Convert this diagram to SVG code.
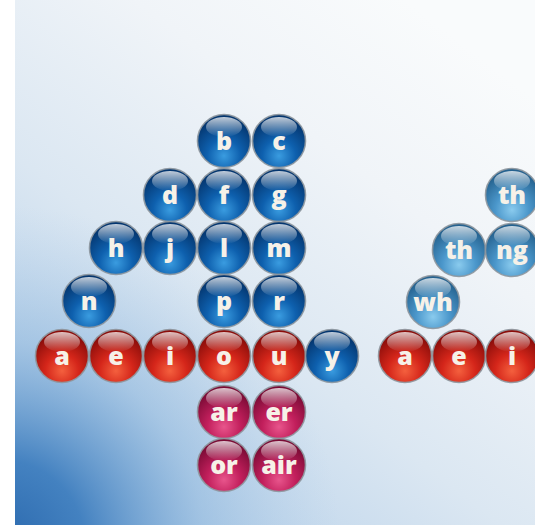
<svg xmlns="http://www.w3.org/2000/svg" xmlns:xlink="http://www.w3.org/1999/xlink" width="535" height="525" viewBox="0 0 535 525">
<defs>
<linearGradient id="bg" x1="0" y1="1" x2="0.75" y2="0">
<stop offset="0" stop-color="#a9c8e6"/>
<stop offset="0.45" stop-color="#dbe7f2"/>
<stop offset="0.75" stop-color="#f0f4f8"/>
<stop offset="1" stop-color="#f9fbfc"/>
</linearGradient>
<radialGradient id="bg2" gradientUnits="userSpaceOnUse" cx="0" cy="545" r="340">
<stop offset="0" stop-color="#2a68ad" stop-opacity="1"/>
<stop offset="0.25" stop-color="#3a7bbd" stop-opacity="0.92"/>
<stop offset="0.6" stop-color="#80aed9" stop-opacity="0.45"/>
<stop offset="1" stop-color="#a9c8e6" stop-opacity="0"/>
</radialGradient>
<radialGradient id="gBlue" cx="0.5" cy="0.78" r="0.7">
<stop offset="0" stop-color="#3a9ce0"/>
<stop offset="0.45" stop-color="#0e60ae"/>
<stop offset="1" stop-color="#04366f"/>
</radialGradient>
<radialGradient id="gLight" cx="0.5" cy="0.78" r="0.7">
<stop offset="0" stop-color="#8acbee"/>
<stop offset="0.45" stop-color="#4b97cb"/>
<stop offset="1" stop-color="#25628f"/>
</radialGradient>
<radialGradient id="gRed" cx="0.5" cy="0.78" r="0.7">
<stop offset="0" stop-color="#f4603e"/>
<stop offset="0.45" stop-color="#d5261a"/>
<stop offset="1" stop-color="#8a0d0a"/>
</radialGradient>
<radialGradient id="gPink" cx="0.5" cy="0.78" r="0.7">
<stop offset="0" stop-color="#e8558c"/>
<stop offset="0.45" stop-color="#c21f5c"/>
<stop offset="1" stop-color="#7a0b35"/>
</radialGradient>
<linearGradient id="hl" x1="0" y1="0" x2="0" y2="1">
<stop offset="0" stop-color="#ffffff" stop-opacity="0.75"/>
<stop offset="1" stop-color="#ffffff" stop-opacity="0"/>
</linearGradient>
<g id="hlite">
<ellipse cx="0" cy="-14" rx="18" ry="10" fill="url(#hl)"/>
</g>
<g id="blue"><circle r="26.5" fill="url(#gBlue)" class="rim"/><use xlink:href="#hlite"/></g>
<g id="light"><circle r="26.5" fill="url(#gLight)" class="rim"/><use xlink:href="#hlite"/></g>
<g id="red"><circle r="26.5" fill="url(#gRed)" class="rim"/><use xlink:href="#hlite"/></g>
<g id="pink"><circle r="26.5" fill="url(#gPink)" class="rim"/><use xlink:href="#hlite"/></g>
</defs>
<style>
.rim { stroke: #8e979f; stroke-width: 1.6; stroke-opacity: 0.9; }
text { font-family: "Open Sans", "DejaVu Sans", sans-serif; font-weight: 800; font-size: 25px; fill: #f6f1e8; text-anchor: middle; }
</style>
<rect x="0" y="0" width="535" height="525" fill="#ffffff"/>
<rect x="15" y="0" width="520" height="525" fill="url(#bg)"/>
<rect x="15" y="0" width="520" height="525" fill="url(#bg2)"/>

<g id="node-b" transform="translate(224,141)"><use xlink:href="#blue"/><text y="8.5">b</text></g>
<g id="node-c" transform="translate(279,141)"><use xlink:href="#blue"/><text y="8.5">c</text></g>
<g id="node-d" transform="translate(170,195)"><use xlink:href="#blue"/><text y="8.5">d</text></g>
<g id="node-f" transform="translate(224,195)"><use xlink:href="#blue"/><text y="8.5">f</text></g>
<g id="node-g" transform="translate(279,195)"><use xlink:href="#blue"/><text y="8.5">g</text></g>
<g id="node-h" transform="translate(116,248)"><use xlink:href="#blue"/><text y="8.5">h</text></g>
<g id="node-j" transform="translate(170,248)"><use xlink:href="#blue"/><text y="8.5">j</text></g>
<g id="node-l" transform="translate(224,248)"><use xlink:href="#blue"/><text y="8.5">l</text></g>
<g id="node-m" transform="translate(279,248)"><use xlink:href="#blue"/><text y="8.5">m</text></g>
<g id="node-n" transform="translate(89,301)"><use xlink:href="#blue"/><text y="8.5">n</text></g>
<g id="node-p" transform="translate(224,301)"><use xlink:href="#blue"/><text y="8.5">p</text></g>
<g id="node-r" transform="translate(279,301)"><use xlink:href="#blue"/><text y="8.5">r</text></g>
<g id="node-a" transform="translate(62,356)"><use xlink:href="#red"/><text y="8.5">a</text></g>
<g id="node-e" transform="translate(116,356)"><use xlink:href="#red"/><text y="8.5">e</text></g>
<g id="node-i" transform="translate(170,356)"><use xlink:href="#red"/><text y="8.5">i</text></g>
<g id="node-o" transform="translate(224,356)"><use xlink:href="#red"/><text y="8.5">o</text></g>
<g id="node-u" transform="translate(279,356)"><use xlink:href="#red"/><text y="8.5">u</text></g>
<g id="node-y" transform="translate(332,356)"><use xlink:href="#blue"/><text y="8.5">y</text></g>
<g id="node-ar" transform="translate(224,412)"><use xlink:href="#pink"/><text y="8.5">ar</text></g>
<g id="node-er" transform="translate(279,412)"><use xlink:href="#pink"/><text y="8.5">er</text></g>
<g id="node-or" transform="translate(224,465)"><use xlink:href="#pink"/><text y="8.5">or</text></g>
<g id="node-air" transform="translate(279,465)"><use xlink:href="#pink"/><text y="8.5">air</text></g>

<g id="node-th1" transform="translate(512,195)"><use xlink:href="#light"/><text y="8.5">th</text></g>
<g id="node-th2" transform="translate(459,250)"><use xlink:href="#light"/><text y="8.5">th</text></g>
<g id="node-ng" transform="translate(512,250)"><use xlink:href="#light"/><text y="8.5">ng</text></g>
<g id="node-wh" transform="translate(433,302)"><use xlink:href="#light"/><text y="8.5">wh</text></g>
<g id="node-a2" transform="translate(405,356)"><use xlink:href="#red"/><text y="8.5">a</text></g>
<g id="node-e2" transform="translate(459,356)"><use xlink:href="#red"/><text y="8.5">e</text></g>
<g id="node-i2" transform="translate(512,356)"><use xlink:href="#red"/><text y="8.5">i</text></g>
</svg>
